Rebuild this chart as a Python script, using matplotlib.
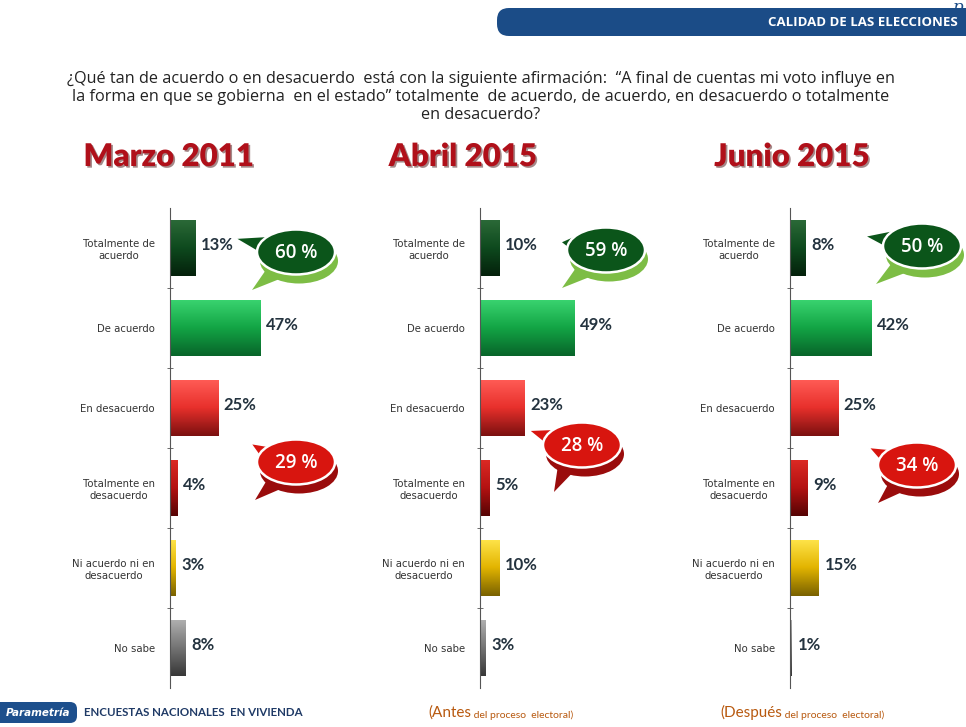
import numpy as np
import matplotlib.pyplot as plt
import matplotlib.patheffects as pe
from matplotlib.colors import LinearSegmentedColormap
from matplotlib.patches import Ellipse, Polygon, FancyBboxPatch

# data
categories = ["Totalmente de\nacuerdo", "De acuerdo", "En desacuerdo",
              "Totalmente en\ndesacuerdo", "Ni acuerdo ni en\ndesacuerdo", "No sabe"]
periods = ["Marzo 2011", "Abril 2015", "Junio 2015"]
marzo_2011 = [13, 47, 25, 4, 3, 8]
abril_2015 = [10, 49, 23, 5, 10, 3]
junio_2015 = [8, 42, 25, 9, 15, 1]
series = [marzo_2011, abril_2015, junio_2015]

question = ("¿Qué tan de acuerdo o en desacuerdo  está con la siguiente afirmación:  "
            "“A final de cuentas mi voto influye en\n"
            "la forma en que se gobierna  en el estado” totalmente  de acuerdo, de acuerdo, "
            "en desacuerdo o totalmente\nen desacuerdo?")

# light / mid / dark for each category bar
bar_shades = [
    ['#2c6a38', '#0e4a1e', '#04210b'],
    ['#3ad470', '#13a545', '#08652a'],
    ['#ff5c56', '#e8302c', '#7c1010'],
    ['#dc2a24', '#b41212', '#560404'],
    ['#ffe44a', '#e2b400', '#7a6200'],
    ['#b0b0b0', '#747474', '#383838'],
]

W, H = 966, 727
fig = plt.figure(figsize=(W / 100, H / 100), dpi=100)
fig.patch.set_facecolor('white')

panel_left = [170, 480, 790]     # x of the bar axis, pixels
top_px, bot_px = 208, 688
xmax = 60
px_per_unit = 1.93

y = np.arange(len(categories))
for k, vals in enumerate(series):
    ax = fig.add_axes([panel_left[k] / W, 1 - bot_px / H,
                       xmax * px_per_unit / W, (bot_px - top_px) / H])
    ax.patch.set_alpha(0)
    bars = ax.barh(y, vals, height=0.71, color=[s[1] for s in bar_shades])
    grad = np.linspace(0, 1, 64).reshape(-1, 1)
    for i, b in enumerate(bars):
        cmap = LinearSegmentedColormap.from_list('g', bar_shades[i])
        yc, h = y[i], 0.71
        im = ax.imshow(grad, cmap=cmap, aspect='auto', origin='upper',
                       extent=(0, vals[i], yc + h / 2, yc - h / 2), zorder=2)
        im.set_clip_path(b)
        ax.annotate(f"{vals[i]}%", (vals[i], yc), xytext=(4, 2),
                    textcoords='offset points', va='center', ha='left',
                    fontsize=12, fontweight='bold', color='#24333f', family='Lato')
    ax.set_xlim(0, xmax)
    ax.set_ylim(len(categories) - 0.5, -0.5)
    for s in ['top', 'right', 'bottom']:
        ax.spines[s].set_visible(False)
    ax.spines['left'].set_color('#555555')
    ax.set_xticks([])
    ax.set_yticks(y, categories)
    ax.set_yticks(np.arange(0.5, len(categories) - 1), minor=True)
    ax.tick_params(axis='y', which='major', length=0, pad=11,
                   labelsize=7.3, labelcolor='#333333')
    ax.tick_params(axis='y', which='minor', length=5, direction='inout', color='#555555')
    for lbl in ax.get_yticklabels():
        lbl.set_multialignment('center')

# overlay in pixel coordinates for header, titles, bubbles and footer
ov = fig.add_axes([0, 0, 1, 1], zorder=10)
ov.set_xlim(0, W)
ov.set_ylim(H, 0)
ov.axis('off')
ov.patch.set_alpha(0)

# header band
ov.add_patch(FancyBboxPatch((497, 8), 500, 28, boxstyle='round,pad=0,rounding_size=12',
                            fc='#1b4c87', ec='none'))
ov.text(958, 23, "CALIDAD DE LAS ELECCIONES", ha='right', va='center', color='white',
        fontsize=9.5, fontweight='bold', family='Open Sans')
ov.text(952, -1, "p", ha='left', va='top', color='#1b4c87', fontsize=12,
        style='italic', family='DejaVu Serif')

ov.text(481, 97, question, ha='center', va='center', fontsize=11.7, color='#222222',
        family='Open Sans', linespacing=1.14)

title_x = [169, 463, 792]
for k, name in enumerate(periods):
    ov.text(title_x[k], 157, name, ha='center', va='center', fontsize=22.5,
            fontweight='heavy', color='#b0101a', family='Lato',
            path_effects=[pe.withSimplePatchShadow(offset=(1.2, -1.2), shadow_rgbFace='#4a1515',
                                                  alpha=0.5)])


def bubble(cx, cy, text, face, edge_shade, tip, low_tip):
    w, h = 78, 45
    # under-shadow with its own tail
    ov.add_patch(Polygon([(cx - w * 0.28, cy + 6), low_tip, (cx - w * 0.05, cy + 22)],
                         closed=True, fc=edge_shade, ec='none'))
    ov.add_patch(Ellipse((cx + 3, cy + 9), w, h, fc=edge_shade, ec='none'))
    ov.add_patch(Polygon([(cx - w * 0.36, cy - 16), tip, (cx - w * 0.36, cy + 6)],
                         closed=True, fc=face, ec='white', lw=1.5, joinstyle='round'))
    ov.add_patch(Ellipse((cx, cy), w, h, fc=face, ec='white', lw=1.8))
    ov.text(cx, cy + 1, text, ha='center', va='center', color='white', fontsize=13.5,
            fontweight='semibold', family='Open Sans')


green_pos = [(296, 252), (606, 250), (922, 246)]
green_tip = [(234, 238), (560, 242), (864, 236)]
green_low = [(252, 290), (562, 288), (876, 284)]
red_pos = [(296, 462), (582, 445), (917, 465)]
red_tip = [(250, 443), (528, 430), (868, 447)]
red_low = [(255, 500), (554, 492), (878, 503)]
for k, vals in enumerate(series):
    bubble(*green_pos[k], f"{vals[0] + vals[1]} %", '#0b551a', '#7dbd45',
           green_tip[k], green_low[k])
    bubble(*red_pos[k], f"{vals[2] + vals[3]} %", '#d8150f', '#9a0c0c',
           red_tip[k], red_low[k])

# footer
ov.add_patch(FancyBboxPatch((-10, 702), 87, 21, boxstyle='round,pad=0,rounding_size=7',
                            fc='#1d4f8c', ec='none'))
ov.text(38, 713, "Parametría", ha='center', va='center', color='white', fontsize=7.5,
        fontweight='bold', style='italic', family='DejaVu Sans')
ov.text(84, 713, "ENCUESTAS NACIONALES  EN VIVIENDA", ha='left', va='center',
        color='#1f3a66', fontsize=8.3, fontweight='bold', family='Lato')
orange = '#b8590f'
for x0, big, small in [(428, "(Antes", " del proceso  electoral)"),
                       (720, "(Después", " del proceso  electoral)")]:
    t = ov.text(x0, 717, big, ha='left', va='baseline', color=orange, fontsize=11,
                family='Lato')
    ov.annotate(small, xy=(1, 0), xycoords=t, va='bottom', ha='left', color=orange,
                fontsize=7.5, family='Lato')

plt.savefig('out.png', dpi=100)
